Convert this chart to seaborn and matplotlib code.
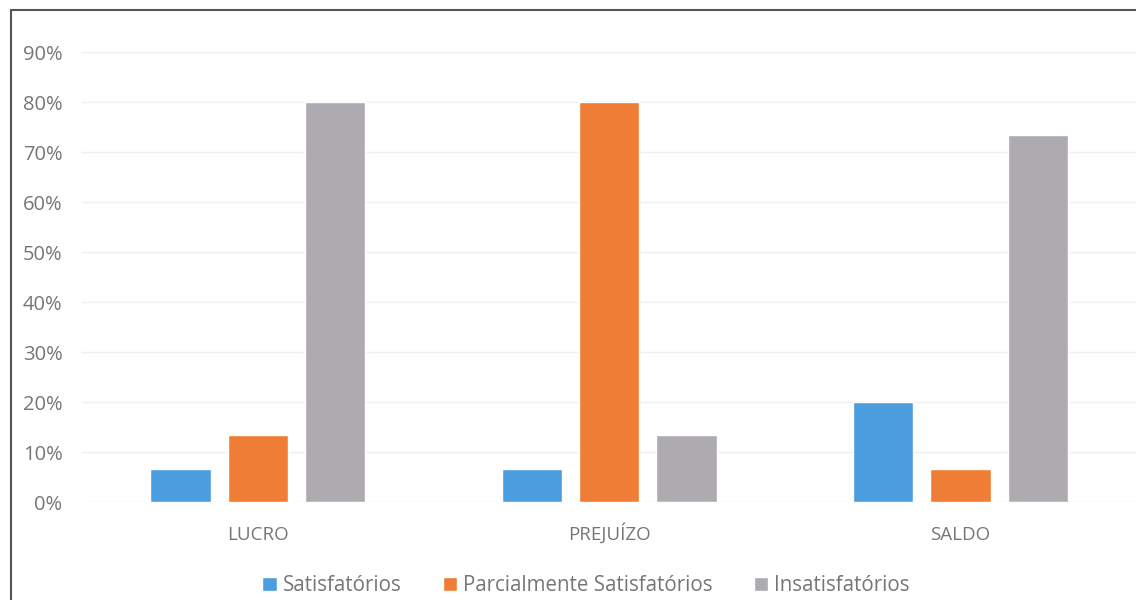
import matplotlib
matplotlib.use("Agg")
import matplotlib.pyplot as plt
import seaborn as sns
import pandas as pd
from matplotlib.patches import Rectangle
from matplotlib.ticker import PercentFormatter

categorias = ["LUCRO", "PREJUÍZO", "SALDO"]
series = ["Satisfatórios", "Parcialmente Satisfatórios", "Insatisfatórios"]
satisfatorios = [0.0667, 0.0667, 0.20]
parcialmente = [0.1333, 0.80, 0.0667]
insatisfatorios = [0.80, 0.1333, 0.7333]
cores = ["#4a9ee0", "#f07d35", "#aeabb0"]

df = pd.DataFrame({
    "categoria": categorias * 3,
    "serie": [series[0]] * 3 + [series[1]] * 3 + [series[2]] * 3,
    "valor": satisfatorios + parcialmente + insatisfatorios,
})

sns.set_theme(style="white")
plt.rcParams["font.family"] = ["Open Sans", "DejaVu Sans"]

fig = plt.figure(figsize=(11.36, 6.0), dpi=100)
ax = fig.add_axes([0.0722, 0.1633, 0.928, 0.75])

sns.barplot(data=df, x="categoria", y="valor", hue="serie", order=categorias,
            hue_order=series, palette=cores, width=0.66, gap=0.22,
            saturation=1, ax=ax, legend=True)

ax.set_ylim(0, 0.9)
ax.set_yticks([i / 10 for i in range(10)])
ax.yaxis.set_major_formatter(PercentFormatter(1.0, decimals=0))
ax.grid(axis="y", color="#efefef", linewidth=1)
ax.set_axisbelow(True)
for s in ax.spines.values():
    s.set_visible(False)
ax.set_xlabel("")
ax.set_ylabel("")
ax.tick_params(axis="y", labelsize=14.5, labelcolor="#767676", pad=14, length=0)
ax.tick_params(axis="x", labelsize=13.5, labelcolor="#767676", pad=27, length=0)
for lbl in ax.get_xticklabels():
    lbl.set_verticalalignment("baseline")
ax.set_xlim(-0.5, 2.5)

handles, labels = ax.get_legend_handles_labels()
ax.legend(handles, labels, loc="center", bbox_to_anchor=(0.516, 0.024),
          bbox_transform=fig.transFigure, ncol=3, frameon=False,
          fontsize=14.8, handlelength=0.7, handleheight=0.7, handletextpad=0.3,
          columnspacing=2.0, labelcolor="#767676")

# outer chart frame
fig.patches.append(Rectangle((11 / 1136, -0.1), 1.2, 1 - 10 / 600 + 0.1,
                             transform=fig.transFigure, fill=False,
                             edgecolor="#555555", linewidth=1.5))

fig.savefig("out.png", dpi=100)
